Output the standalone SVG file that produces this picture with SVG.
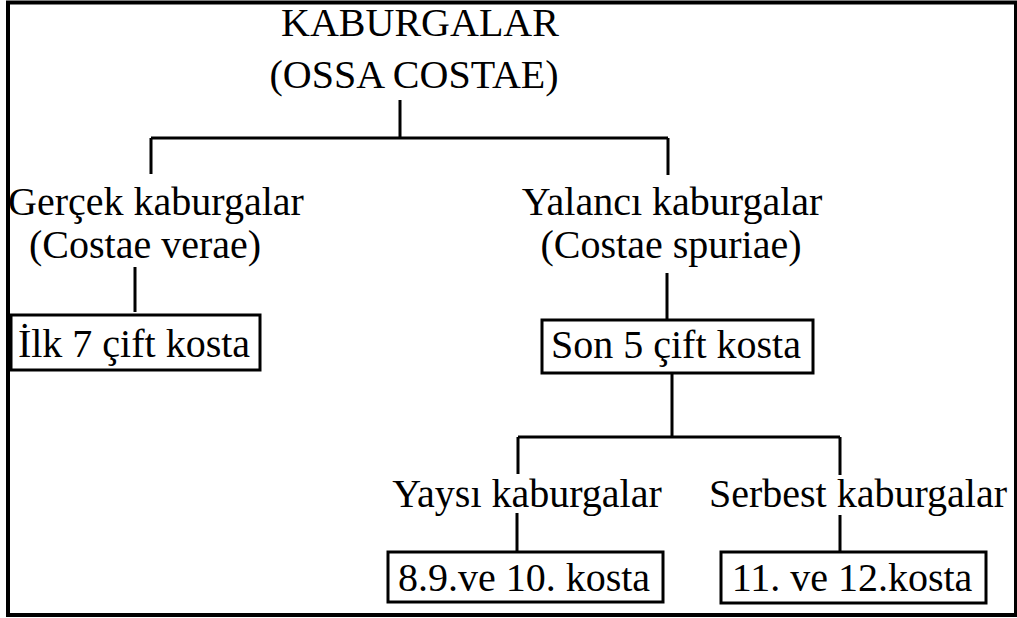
<svg xmlns="http://www.w3.org/2000/svg" width="1017" height="618" viewBox="0 0 1017 618">
<style>
text{font-family:"Liberation Serif","Times New Roman",serif;font-size:40px;fill:#000;text-anchor:middle}
.box{fill:#fff;stroke:#000;stroke-width:3}
.c{stroke:#000;stroke-width:3;fill:none}
</style>
<rect x="0" y="0" width="1017" height="618" fill="#fff"/>
<rect x="8" y="2.5" width="1008" height="612.5" fill="none" stroke="#000" stroke-width="4"/>
<g id="connectors">
<path class="c" d="M400 100V138M151 138H668M151 138V174M668 138V175"/>
<path class="c" d="M135 267V312M667 273V320"/>
<path class="c" d="M672 373V437M518 437H840M518 437V474M840 437V475"/>
<path class="c" d="M517 513V552M840 515V552"/>
</g>
<g id="root"><text x="420" y="36">KABURGALAR</text><text x="414" y="88">(OSSA COSTAE)</text></g>
<g id="gercek"><text x="156" y="215">Gerçek kaburgalar</text><text x="145" y="258">(Costae verae)</text></g>
<g id="ilk"><rect class="box" x="11" y="315" width="249" height="55"/><text x="134" y="357">İlk 7 çift kosta</text></g>
<g id="yalanci"><text x="672" y="215">Yalancı kaburgalar</text><text x="671" y="258">(Costae spuriae)</text></g>
<g id="son"><rect class="box" x="542" y="320" width="271" height="53"/><text x="676" y="358">Son 5 çift kosta</text></g>
<g id="yaysi"><text x="527" y="507">Yaysı kaburgalar</text></g>
<g id="serbest"><text x="858" y="507">Serbest kaburgalar</text></g>
<g id="k8"><rect class="box" x="388" y="552" width="275" height="50"/><text x="524" y="591">8.9.ve 10. kosta</text></g>
<g id="k11"><rect class="box" x="721" y="552" width="265" height="51"/><text x="852" y="591">11. ve 12.kosta</text></g>
</svg>
